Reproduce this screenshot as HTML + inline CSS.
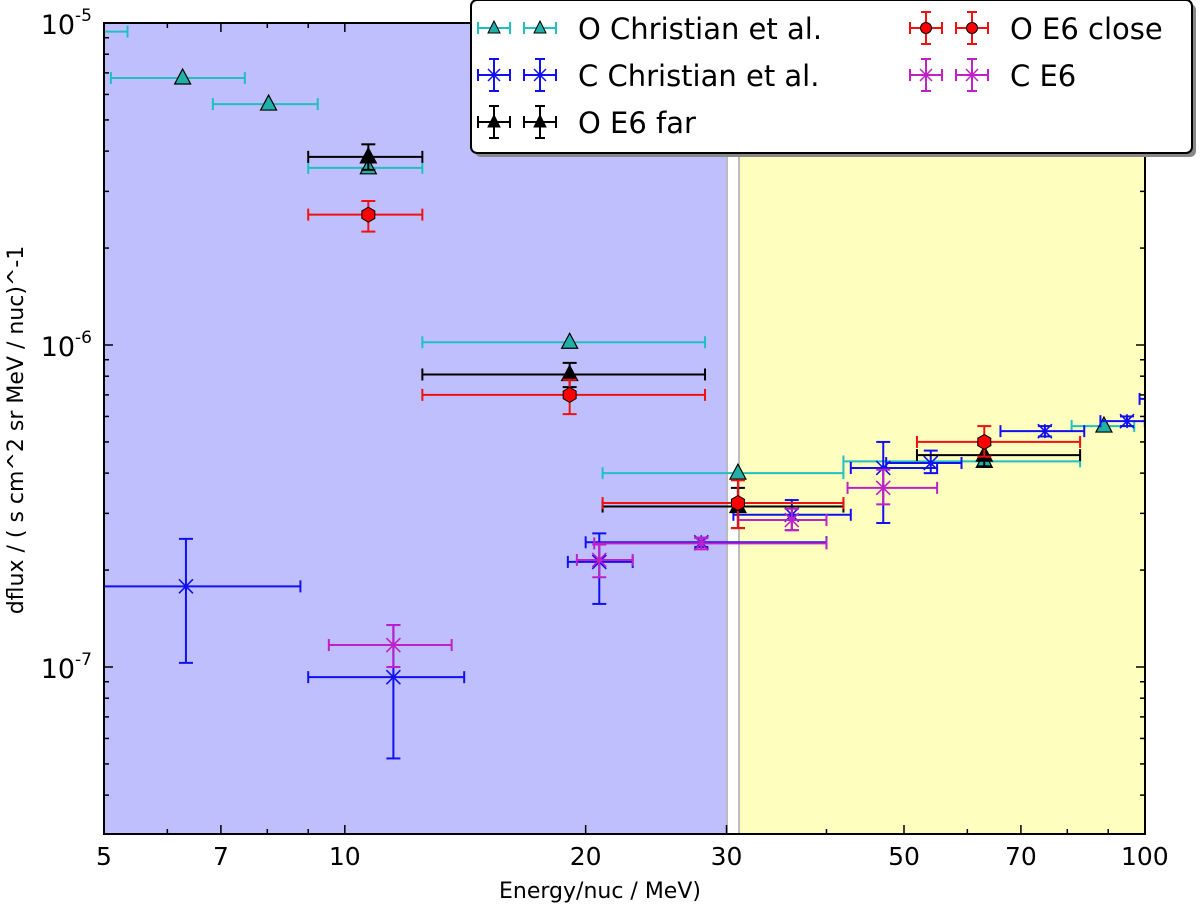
<!DOCTYPE html>
<html><head><meta charset="utf-8"><style>
html,body{margin:0;padding:0;background:#fff;}
svg{display:block;font-family:"DejaVu Sans","Liberation Sans",sans-serif;}
</style></head><body>
<svg id="chart" width="1200" height="909" viewBox="0 0 1200 909" xmlns="http://www.w3.org/2000/svg">
<defs><clipPath id="pc"><rect x="104" y="23" width="1041" height="811"/></clipPath></defs>
<g id="bg"></g>
<g id="marks" clip-path="url(#pc)"></g>
<g id="grid"></g>
<g id="legend"></g>
<text x="600" y="898" font-size="22" text-anchor="middle">Energy/nuc / MeV)</text>
<text transform="translate(23,430) rotate(-90)" font-size="22" text-anchor="middle">dflux / ( s cm^2 sr MeV / nuc)^-1</text>
</svg>
<script>
// ---- data ----
const ocE=[4.9,6.27,8.03,10.7,19.1,31.0,63,88.9];
const ocF=[9.4e-6,6.75e-6,5.6e-6,3.55e-6,1.02e-6,4.0e-7,4.35e-7,5.6e-7];
const ocElo=[4.5,5.1,6.84,9.0,12.5,21.0,42,81];
const ocEhi=[5.35,7.5,9.25,12.5,28.2,42.0,83,97];

const ccE=[6.33,11.5,20.8,27.9,36.2,47.1,54,75,95,102];
const ccF=[1.78e-7,9.3e-8,2.12e-7,2.44e-7,2.97e-7,4.15e-7,4.3e-7,5.4e-7,5.8e-7,6.8e-7];
const ccElo=[5.0,9.0,19.0,20.0,30.6,42.9,47.5,66,88,98.5];
const ccEhi=[8.8,14.1,22.9,40,42.9,55,59,84,100,110];
const ccFlo=[1.03e-7,5.2e-8,1.57e-7,2.36e-7,2.66e-7,2.8e-7,4.0e-7,5.2e-7,5.6e-7,6.5e-7];
const ccFhi=[2.5e-7,1.35e-7,2.6e-7,2.52e-7,3.3e-7,5.0e-7,4.7e-7,5.6e-7,6.0e-7,7.1e-7];

const ofE=[10.7,19.1,31.0,63];
const ofF=[3.84e-6,8.1e-7,3.15e-7,4.55e-7];
const ofElo=[9.0,12.5,21.0,51.9];
const ofEhi=[12.5,28.2,42.0,83];
const ofFlo=[3.5e-6,7.4e-7,2.7e-7,4.2e-7];
const ofFhi=[4.2e-6,8.8e-7,3.6e-7,4.9e-7];

const ocl_E=[10.7,19.1,31.0,63];
const ocl_F=[2.54e-6,7.0e-7,3.23e-7,5.0e-7];
const ocl_Elo=[9.0,12.5,21.0,51.9];
const ocl_Ehi=[12.5,28.2,42.0,83];
const ocl_Flo=[2.25e-6,6.1e-7,2.7e-7,4.5e-7];
const ocl_Fhi=[2.8e-6,7.8e-7,3.8e-7,5.6e-7];

const ceE=[11.5,20.8,27.9,36.2,47.1];
const ceF=[1.17e-7,2.15e-7,2.42e-7,2.86e-7,3.6e-7];
const ceElo=[9.55,19.5,20.5,31,42.5];
const ceEhi=[13.6,22.9,40,40,55];
const ceFlo=[1.0e-7,1.9e-7,2.32e-7,2.66e-7,3.2e-7];
const ceFhi=[1.35e-7,2.4e-7,2.52e-7,3.1e-7,4.1e-7];

const xTickVals=[5,7,10,20,30,50,70,100];
const xTickLabels=["5","7","10","20","30","50","70","100"];
const yDecades=[-7,-6,-5];

// ---- axes ----
const L=104,R=1145,T=23,B=834;
const xs=e=>L+800*Math.log10(e/5);
const ys=f=>T+322*(-5-Math.log10(f));
const NS="http://www.w3.org/2000/svg";
function mk(tag,attrs,parent){const el=document.createElementNS(NS,tag);for(const k in attrs)el.setAttribute(k,attrs[k]);parent.appendChild(el);return el;}
const bg=document.getElementById('bg'),grid=document.getElementById('grid'),marks=document.getElementById('marks'),leg=document.getElementById('legend');

let r=mk('rect',{x:L,y:T,width:xs(30)-L,height:B-T,fill:'#bfbffe'},bg);


r=mk('rect',{x:xs(30),y:T,width:xs(31)-xs(30),height:B-T,fill:'#fff'},bg);
r=mk('line',{x1:xs(30)+0.5,y1:T,x2:xs(30)+0.5,y2:B,stroke:'#bbb','stroke-width':2},bg);
r=mk('line',{x1:xs(31.1),y1:T,x2:xs(31.1),y2:B,stroke:'#bbb','stroke-width':2},bg);
r=mk('rect',{x:xs(31.1)+1,y:T,width:R-xs(31.1)-1,height:B-T,fill:'#fefebf'},bg);



// x ticks
for(let d=5;d<=100;d+=(d<10?1:10)){
  const x=xs(d);
  const len=(xTickVals.includes(d))?9:5;
  mk('line',{x1:x,y1:B,x2:x,y2:B-len,stroke:'#000','stroke-width':1.5},grid);
  mk('line',{x1:x,y1:T,x2:x,y2:T+len,stroke:'#000','stroke-width':1.5},grid);
}
xTickVals.forEach((v,i)=>{
  const t=mk('text',{x:xs(v),y:865,'font-size':25,'text-anchor':'middle'},grid);
  t.textContent=xTickLabels[i];
  
  
});
// y ticks
for(let dec=-8;dec<=-5;dec++){
  for(let m=1;m<=9;m++){
    const f=m*Math.pow(10,dec);const y=ys(f);
    if(y<T-0.5||y>B+0.5)continue;
    const len=m===1?9:5;
    mk('line',{x1:L,y1:y,x2:L+len,y2:y,stroke:'#000','stroke-width':1.5},grid);
    mk('line',{x1:R,y1:y,x2:R-len,y2:y,stroke:'#000','stroke-width':1.5},grid);
  }
}
yDecades.forEach(d=>{
  const y=ys(Math.pow(10,d));
  const t=mk('text',{x:92,y:y+11,'font-size':27,'text-anchor':'end'},grid);
  
  
  const a=mk('tspan',{},t);a.textContent='10';
  const b=mk('tspan',{dy:-13,'font-size':17},t);b.textContent=String(d);
});
mk('rect',{x:L,y:T,width:R-L,height:B-T,fill:'none',stroke:'#000','stroke-width':2},grid);

// ---- markers ----
function marker(g,type,x,y,color){
  if(type==='tri'){mk('polygon',{points:`${x},${y-9} ${x-8},${y+6} ${x+8},${y+6}`,fill:color,stroke:'#000','stroke-width':1.2},g);}
  else if(type==='hex'){let p=[];for(let k=0;k<6;k++){const a=Math.PI/6+k*Math.PI/3;p.push((x+7.5*Math.cos(a))+','+(y+7.5*Math.sin(a)));}mk('polygon',{points:p.join(' '),fill:color,stroke:'#000','stroke-width':1},g);}
  else {const s=7;mk('path',{d:`M${x-s} ${y-s}L${x+s} ${y+s}M${x-s} ${y+s}L${x+s} ${y-s}M${x} ${y-s}L${x} ${y+s}`,stroke:color,'stroke-width':1.6,fill:'none'},g);}
}
function series(name,E,F,Elo,Ehi,Flo,Fhi,color,type,fill){
  const g=mk('g',{},marks);
  
  
  for(let i=0;i<E.length;i++){
    const x=xs(E[i]),y=ys(F[i]);const x1=xs(Elo[i]),x2=xs(Ehi[i]);
    mk('line',{x1:x1,y1:y,x2:x2,y2:y,stroke:color,'stroke-width':2},g);
    mk('line',{x1:x1,y1:y-6,x2:x1,y2:y+6,stroke:color,'stroke-width':2},g);
    mk('line',{x1:x2,y1:y-6,x2:x2,y2:y+6,stroke:color,'stroke-width':2},g);
    if(Flo){const ya=ys(Fhi[i]),yb=ys(Flo[i]);
      mk('line',{x1:x,y1:ya,x2:x,y2:yb,stroke:color,'stroke-width':2},g);
      mk('line',{x1:x-7,y1:ya,x2:x+7,y2:ya,stroke:color,'stroke-width':2},g);
      mk('line',{x1:x-7,y1:yb,x2:x+7,y2:yb,stroke:color,'stroke-width':2},g);}
    marker(g,type,x,y,fill);
  }
}
series('series-o-christian',ocE,ocF,ocElo,ocEhi,null,null,'#20c0c0','tri','#20b0a8');
series('series-c-christian',ccE,ccF,ccElo,ccEhi,ccFlo,ccFhi,'#1010f0','x','#1010f0');
series('series-c-e6',ceE,ceF,ceElo,ceEhi,ceFlo,ceFhi,'#c020c8','x','#c020c8');
series('series-o-e6-far',ofE,ofF,ofElo,ofEhi,ofFlo,ofFhi,'#000','tri','#000');
series('series-o-e6-close',ocl_E,ocl_F,ocl_Elo,ocl_Ehi,ocl_Flo,ocl_Fhi,'#f01010','hex','#f00');

// ---- legend ----
mk('rect',{x:475,y:4,width:721,height:153,rx:6,fill:'#888'},leg);
mk('rect',{x:471,y:0,width:721,height:153,rx:6,fill:'#fff',stroke:'#000','stroke-width':2},leg);
const items=[['O Christian et al.','#20c0c0','tri','#20b0a8',false,478,28],
 ['C Christian et al.','#1010f0','x','#1010f0',true,478,75],
 ['O E6 far','#000','tri','#000',true,478,122],
 ['O E6 close','#f01010','hex','#f00',true,910,28],
 ['C E6','#c020c8','x','#c020c8',true,910,75]];
items.forEach(it=>{
  const g=mk('g',{},leg);
  
  
  [0,46].forEach(dx=>{
    const x0=it[5]+dx,cx=x0+16,y=it[6];
    mk('line',{x1:x0,y1:y,x2:x0+32,y2:y,stroke:it[1],'stroke-width':2},g);
    mk('line',{x1:x0,y1:y-6,x2:x0,y2:y+6,stroke:it[1],'stroke-width':2},g);
    mk('line',{x1:x0+32,y1:y-6,x2:x0+32,y2:y+6,stroke:it[1],'stroke-width':2},g);
    if(it[4]){mk('line',{x1:cx,y1:y-16,x2:cx,y2:y+16,stroke:it[1],'stroke-width':2},g);
      mk('line',{x1:cx-5,y1:y-16,x2:cx+5,y2:y-16,stroke:it[1],'stroke-width':2},g);
      mk('line',{x1:cx-5,y1:y+16,x2:cx+5,y2:y+16,stroke:it[1],'stroke-width':2},g);}
    if(it[2]==='tri')mk('polygon',{points:`${cx},${y-7} ${cx-6},${y+5} ${cx+6},${y+5}`,fill:it[3],stroke:'#000','stroke-width':1},g);
    else if(it[2]==='hex')mk('circle',{cx:cx,cy:y,r:5.5,fill:it[3],stroke:'#000','stroke-width':1},g);
    else mk('path',{d:`M${cx-6} ${y-6}L${cx+6} ${y+6}M${cx-6} ${y+6}L${cx+6} ${y-6}M${cx} ${y-7}L${cx} ${y+7}`,stroke:it[1],'stroke-width':1.5},g);
  });
  const t=mk('text',{x:it[5]+100,y:it[6]+11,'font-size':29},g);t.textContent=it[0];
});
</script>
</body></html>
